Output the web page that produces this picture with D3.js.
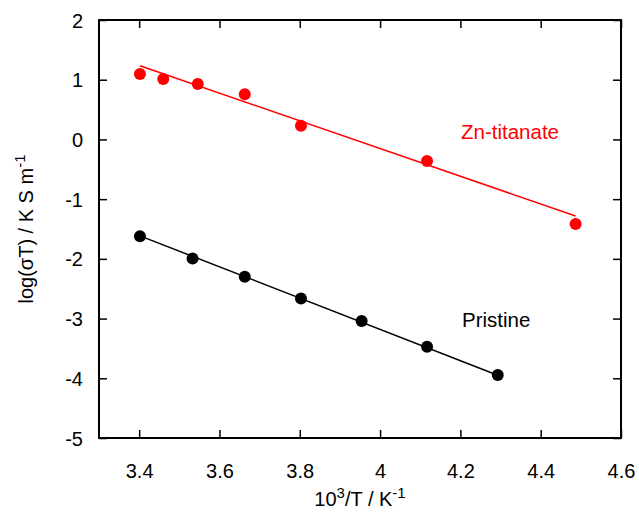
<!DOCTYPE html>
<html>
<head>
<meta charset="utf-8">
<script src="https://cdn.jsdelivr.net/npm/d3@7"></script>
<style>
  html, body { margin: 0; padding: 0; background: #fff; }
  svg text { font-family: "Liberation Sans", Arial, Helvetica, sans-serif; }
</style>
</head>
<body>
<svg id="chart" width="639" height="512"></svg>
<script>
// Arrhenius-type data: log(σT) against 1000/T
const znX = [3.402, 3.460, 3.546, 3.663, 3.803, 4.117, 4.487];
const znY = [1.095, 1.010, 0.928, 0.755, 0.230, -0.362, -1.417];
const znFitX = [3.402, 4.487];
const znFitY = [1.235, -1.283];

const prX = [3.402, 3.533, 3.663, 3.803, 3.954, 4.117, 4.293];
const prY = [-1.623, -1.995, -2.300, -2.662, -3.042, -3.472, -3.946];
const prFitX = [3.402, 4.293];
const prFitY = [-1.615, -3.948];

const xTicks = [3.4, 3.6, 3.8, 4, 4.2, 4.4, 4.6];
const yTicks = [2, 1, 0, -1, -2, -3, -4, -5];

const svg = d3.select("#chart");
const mLeft = 99, mRight = 621, mTop = 20, mBottom = 438;

const x = d3.scaleLinear().domain([3.3, 4.6]).range([mLeft, mRight]);
const y = d3.scaleLinear().domain([-5, 2]).range([mBottom, mTop]);

const tickLen = 8;
const fmt = d => String(d);

// inward ticks on all four sides
const gB = svg.append("g").attr("transform", `translate(0,${mBottom})`)
  .call(d3.axisBottom(x).tickValues(xTicks).tickSize(tickLen).tickFormat(fmt));
gB.selectAll(".tick line").attr("y2", -tickLen);
gB.selectAll(".tick text").attr("y", 0).attr("dy", "40px");

const gT = svg.append("g").attr("transform", `translate(0,${mTop})`)
  .call(d3.axisTop(x).tickValues(xTicks).tickSize(tickLen).tickFormat(""));
gT.selectAll(".tick line").attr("y2", tickLen);

const gL = svg.append("g").attr("transform", `translate(${mLeft},0)`)
  .call(d3.axisLeft(y).tickValues(yTicks).tickSize(tickLen).tickFormat(fmt));
gL.selectAll(".tick line").attr("x2", tickLen);
gL.selectAll(".tick text").attr("x", -16).attr("dy", "0.35em");

const gR = svg.append("g").attr("transform", `translate(${mRight},0)`)
  .call(d3.axisRight(y).tickValues(yTicks).tickSize(tickLen).tickFormat(""));
gR.selectAll(".tick line").attr("x2", -tickLen);

[gB, gT, gL, gR].forEach(g => {
  g.select(".domain").remove();
  g.selectAll(".tick line").attr("stroke", "#000").attr("stroke-width", 1.5);
  g.selectAll(".tick text").attr("fill", "#000").style("font-size", "20px")
    .style("font-family", "'Liberation Sans', Arial, sans-serif");
});

// plot frame
svg.append("rect")
  .attr("x", mLeft).attr("y", mTop)
  .attr("width", mRight - mLeft).attr("height", mBottom - mTop)
  .attr("fill", "none").attr("stroke", "#000").attr("stroke-width", 2);

// fitted lines
const line = d3.line().x(d => x(d[0])).y(d => y(d[1]));
svg.append("path")
  .datum(d3.zip(znFitX, znFitY))
  .attr("d", line).attr("fill", "none").attr("stroke", "#ff0000").attr("stroke-width", 1.5);
svg.append("path")
  .datum(d3.zip(prFitX, prFitY))
  .attr("d", line).attr("fill", "none").attr("stroke", "#000").attr("stroke-width", 1.5);

// data points
svg.append("g").selectAll("circle")
  .data(d3.zip(znX, znY)).join("circle")
  .attr("cx", d => x(d[0])).attr("cy", d => y(d[1])).attr("r", 6)
  .attr("fill", "#ff0000");
svg.append("g").selectAll("circle")
  .data(d3.zip(prX, prY)).join("circle")
  .attr("cx", d => x(d[0])).attr("cy", d => y(d[1])).attr("r", 6)
  .attr("fill", "#000");

// series labels
svg.append("text").attr("x", 461).attr("y", 138.5)
  .attr("fill", "#ff0000").style("font-size", "20.5px").text("Zn-titanate");
svg.append("text").attr("x", 462).attr("y", 327)
  .attr("fill", "#000").style("font-size", "20.5px").text("Pristine");

// axis titles
const xt = svg.append("text").attr("x", (mLeft + mRight) / 2).attr("y", 506)
  .attr("text-anchor", "middle").style("font-size", "20px");
xt.append("tspan").text("10");
xt.append("tspan").attr("dy", "-8").style("font-size", "15px").text("3");
xt.append("tspan").attr("dy", "8").text("/T / K");
xt.append("tspan").attr("dy", "-8").style("font-size", "15px").text("-1");

const yt = svg.append("text")
  .attr("transform", `translate(33,${(mTop + mBottom) / 2}) rotate(-90)`)
  .attr("text-anchor", "middle").style("font-size", "20px");
yt.append("tspan").text("log(σT) / K S m");
yt.append("tspan").attr("dy", "-8").style("font-size", "15px").text("-1");
</script>
</body>
</html>
